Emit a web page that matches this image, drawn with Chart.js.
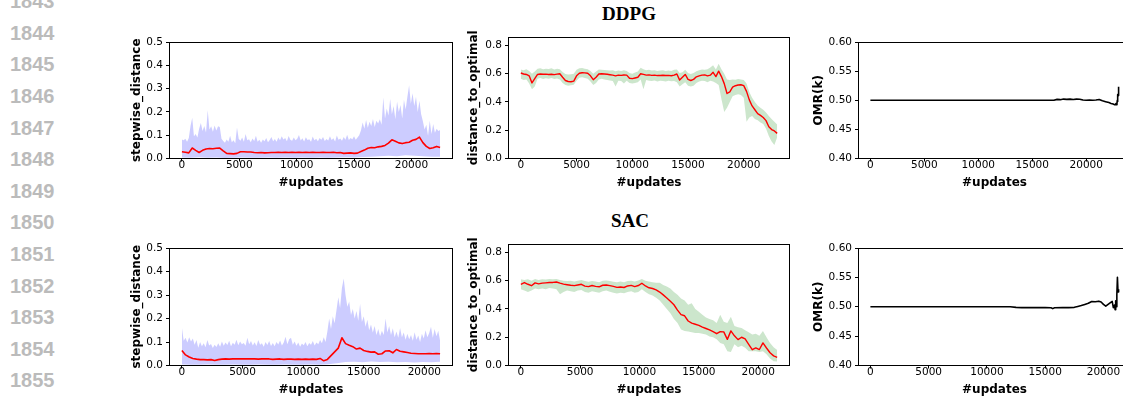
<!DOCTYPE html>
<html><head><meta charset="utf-8">
<script src="https://cdn.jsdelivr.net/npm/chart.js@4/dist/chart.umd.min.js"></script>
<style>
html,body{margin:0;padding:0;background:#fff;overflow:hidden;}
#page{position:relative;width:1123px;height:400px;overflow:hidden;background:#fff;}
canvas{position:absolute;}
.ln{position:absolute;left:10px;font:bold 20px/20px "Liberation Sans",Arial,sans-serif;color:#bbbbbb;}
.ttl{position:absolute;width:120px;text-align:center;font:bold 19px/19px "Liberation Serif","Times New Roman",serif;color:#000;}
</style></head><body><div id="page">
<div class="ln" style="top:-9px">1843</div>
<div class="ln" style="top:22.6px">1844</div>
<div class="ln" style="top:54.2px">1845</div>
<div class="ln" style="top:85.9px">1846</div>
<div class="ln" style="top:117.5px">1847</div>
<div class="ln" style="top:149.1px">1848</div>
<div class="ln" style="top:180.7px">1849</div>
<div class="ln" style="top:212.3px">1850</div>
<div class="ln" style="top:244px">1851</div>
<div class="ln" style="top:275.6px">1852</div>
<div class="ln" style="top:307.2px">1853</div>
<div class="ln" style="top:338.8px">1854</div>
<div class="ln" style="top:370.4px">1855</div>
<div class="ttl" style="left:569px;top:4px">DDPG</div>
<div class="ttl" style="left:570px;top:211px">SAC</div>
<canvas id="c11"></canvas><canvas id="c12"></canvas><canvas id="c13"></canvas>
<canvas id="c21"></canvas><canvas id="c22"></canvas><canvas id="c23"></canvas>
</div>
<script>
// ---------------- tick labels ----------------
const X_TICKS = [0, 5000, 10000, 15000, 20000];
const STEP_Y_TICKS = [0.0, 0.1, 0.2, 0.3, 0.4, 0.5];
const DIST_Y_TICKS = [0.0, 0.2, 0.4, 0.6, 0.8];
const OMR_Y_TICKS = [0.40, 0.45, 0.50, 0.55, 0.60];

// ---------------- DDPG : stepwise_distance ----------------
const DDPG_STEP_MAX_DX = 150;
const DDPG_STEP_MAX = [
0.082,0.078,0.085,0.072,0.088,0.140,0.175,0.095,0.105,0.090,
0.128,0.152,0.118,0.140,0.112,0.207,0.125,0.138,0.115,0.142,
0.120,0.138,0.135,0.085,0.075,0.068,0.082,0.072,0.098,0.070,
0.078,0.065,0.133,0.085,0.076,0.090,0.072,0.105,0.078,0.083,
0.070,0.086,0.075,0.098,0.072,0.080,0.068,0.082,0.074,0.088,
0.070,0.079,0.092,0.074,0.084,0.072,0.090,0.078,0.095,0.082,
0.088,0.074,0.097,0.080,0.076,0.090,0.078,0.085,0.101,0.077,
0.087,0.073,0.091,0.079,0.083,0.072,0.094,0.078,0.085,0.074,
0.088,0.080,0.092,0.075,0.084,0.077,0.096,0.079,0.087,0.073,
0.099,0.081,0.086,0.076,0.092,0.080,0.102,0.079,0.088,0.083,
0.095,0.081,0.090,0.100,0.120,0.155,0.128,0.165,0.132,0.158,
0.140,0.170,0.135,0.162,0.150,0.168,0.145,0.262,0.172,0.215,
0.185,0.255,0.190,0.225,0.168,0.245,0.200,0.230,0.172,0.252,
0.210,0.265,0.314,0.235,0.280,0.225,0.265,0.200,0.248,0.190,
0.160,0.125,0.145,0.098,0.162,0.105,0.148,0.110,0.128,0.118,
0.122];
const DDPG_STEP_MIN_DX = 750;
const DDPG_STEP_MIN = [
0.004,0.003,0.005,0.003,0.004,0.002,0.003,0.004,0.003,0.003,
0.004,0.003,0.004,0.003,0.004,0.003,0.004,0.003,0.004,0.005,
0.004,0.006,0.008,0.010,0.012,0.010,0.014,0.012,0.010,0.008,
0.007];
const DDPG_STEP_MEAN_DX = 300;
const DDPG_STEP_MEAN = [
0.029,0.027,0.024,0.045,0.035,0.026,0.035,0.041,0.043,0.042,
0.044,0.045,0.033,0.022,0.021,0.020,0.022,0.029,0.029,0.028,
0.028,0.026,0.025,0.026,0.024,0.025,0.026,0.026,0.027,0.026,
0.027,0.026,0.027,0.026,0.027,0.026,0.027,0.026,0.027,0.026,
0.026,0.027,0.026,0.026,0.027,0.025,0.026,0.022,0.023,0.024,
0.022,0.023,0.030,0.036,0.044,0.047,0.046,0.050,0.052,0.056,
0.066,0.080,0.074,0.067,0.064,0.068,0.070,0.078,0.082,0.092,
0.068,0.052,0.043,0.046,0.052,0.047];

// ---------------- DDPG : distance_to_optimal ----------------
const DDPG_DIST_DX = 250;
const DDPG_DIST_MEAN = [
0.605,0.598,0.595,0.585,0.535,0.565,0.595,0.598,0.596,0.597,
0.595,0.596,0.594,0.597,0.600,0.575,0.552,0.545,0.543,0.548,
0.585,0.603,0.607,0.606,0.603,0.585,0.558,0.575,0.598,0.600,
0.598,0.596,0.593,0.590,0.585,0.590,0.588,0.591,0.590,0.568,
0.565,0.570,0.575,0.600,0.595,0.590,0.592,0.588,0.590,0.587,
0.588,0.589,0.587,0.588,0.586,0.590,0.598,0.555,0.575,0.595,
0.560,0.552,0.560,0.578,0.585,0.590,0.592,0.585,0.590,0.610,
0.580,0.618,0.580,0.530,0.460,0.472,0.505,0.515,0.520,0.522,
0.516,0.475,0.415,0.372,0.345,0.318,0.305,0.290,0.268,0.225,
0.205,0.195,0.178];
const DDPG_DIST_UPPER = [
0.630,0.625,0.632,0.620,0.600,0.615,0.635,0.638,0.632,0.636,
0.634,0.638,0.630,0.636,0.632,0.612,0.598,0.594,0.596,0.600,
0.628,0.638,0.640,0.636,0.632,0.620,0.600,0.615,0.630,0.628,
0.626,0.624,0.622,0.625,0.618,0.622,0.620,0.624,0.620,0.605,
0.600,0.608,0.615,0.642,0.632,0.625,0.628,0.622,0.624,0.620,
0.622,0.624,0.620,0.622,0.620,0.628,0.630,0.605,0.610,0.628,
0.605,0.598,0.605,0.618,0.625,0.630,0.628,0.632,0.645,0.660,
0.630,0.670,0.632,0.600,0.560,0.555,0.560,0.558,0.562,0.560,
0.555,0.530,0.470,0.430,0.400,0.375,0.360,0.345,0.325,0.300,
0.280,0.260,0.240];
const DDPG_DIST_LOWER = [
0.565,0.555,0.560,0.530,0.490,0.510,0.565,0.570,0.562,0.568,
0.565,0.570,0.562,0.566,0.560,0.535,0.520,0.515,0.518,0.522,
0.550,0.572,0.575,0.570,0.565,0.545,0.520,0.535,0.560,0.565,
0.560,0.555,0.552,0.548,0.510,0.550,0.548,0.530,0.550,0.535,
0.530,0.535,0.540,0.560,0.490,0.555,0.550,0.548,0.552,0.545,
0.550,0.548,0.545,0.550,0.546,0.548,0.540,0.510,0.525,0.540,
0.515,0.510,0.515,0.535,0.545,0.550,0.548,0.540,0.550,0.545,
0.535,0.520,0.420,0.330,0.360,0.400,0.440,0.450,0.455,0.450,
0.430,0.260,0.290,0.300,0.280,0.270,0.255,0.245,0.210,0.160,
0.120,0.095,0.150];

// ---------------- DDPG : OMR(k) ----------------
const DDPG_OMR_X = [0,2000,4000,6000,8000,10000,12000,14000,16000,17000,17300,17600,17900,18200,18500,18800,19100,19400,19700,20000,20300,20600,20900,21200,21500,21800,22100,22300,22500,22600,22700,22750,22800,22850,22880,22900,22930,22960,23000];
const DDPG_OMR = [0.5,0.5,0.5,0.5,0.5,0.5,0.5,0.5,0.5,0.5,0.5015,0.501,0.502,0.5015,0.502,0.5012,0.502,0.5018,0.5005,0.5,0.5002,0.5,0.5005,0.5012,0.499,0.4975,0.496,0.4945,0.4935,0.4925,0.4925,0.4945,0.4922,0.495,0.5,0.498,0.51,0.508,0.523];

// ---------------- SAC : stepwise_distance ----------------
const SAC_STEP_MAX_DX = 150;
const SAC_STEP_MAX = [
0.162,0.105,0.118,0.098,0.120,0.102,0.115,0.088,0.108,0.076,
0.100,0.082,0.095,0.078,0.108,0.085,0.092,0.074,0.088,0.079,
0.095,0.080,0.102,0.084,0.098,0.087,0.105,0.082,0.097,0.088,
0.110,0.086,0.102,0.090,0.096,0.084,0.118,0.090,0.104,0.085,
0.099,0.083,0.108,0.088,0.095,0.080,0.100,0.087,0.104,0.083,
0.096,0.082,0.100,0.089,0.106,0.085,0.098,0.122,0.090,0.112,
0.118,0.088,0.102,0.084,0.098,0.080,0.094,0.086,0.100,0.082,
0.096,0.088,0.104,0.085,0.098,0.090,0.108,0.095,0.120,0.100,
0.145,0.200,0.155,0.210,0.180,0.235,0.290,0.245,0.330,0.370,
0.300,0.250,0.272,0.215,0.240,0.200,0.232,0.190,0.262,0.185,
0.210,0.165,0.195,0.150,0.175,0.140,0.168,0.130,0.155,0.125,
0.148,0.130,0.200,0.140,0.168,0.130,0.158,0.120,0.145,0.118,
0.160,0.120,0.140,0.110,0.135,0.112,0.130,0.105,0.142,0.110,
0.128,0.100,0.135,0.115,0.150,0.120,0.138,0.165,0.118,0.155,
0.125,0.148,0.105];
const SAC_STEP_MIN_DX = 710;
const SAC_STEP_MIN = [
0.004,0.003,0.003,0.004,0.003,0.003,0.004,0.003,0.003,0.004,
0.003,0.003,0.004,0.003,0.003,0.004,0.003,0.005,0.010,0.015,
0.016,0.014,0.017,0.015,0.016,0.014,0.015,0.013,0.015,0.014,
0.016];
const SAC_STEP_MEAN_DX = 300;
const SAC_STEP_MEAN = [
0.064,0.045,0.036,0.030,0.027,0.025,0.025,0.024,0.025,0.021,
0.025,0.027,0.028,0.027,0.028,0.029,0.028,0.028,0.029,0.028,
0.028,0.027,0.028,0.029,0.028,0.026,0.027,0.028,0.026,0.027,
0.027,0.026,0.027,0.026,0.027,0.026,0.027,0.026,0.030,0.020,
0.026,0.042,0.058,0.074,0.118,0.093,0.086,0.080,0.070,0.074,
0.064,0.060,0.057,0.058,0.048,0.050,0.062,0.063,0.054,0.068,
0.061,0.058,0.055,0.052,0.051,0.050,0.050,0.050,0.051,0.050,
0.051,0.050];

// ---------------- SAC : distance_to_optimal ----------------
const SAC_DIST_DX = 300;
const SAC_DIST_MEAN = [
0.575,0.587,0.575,0.565,0.585,0.578,0.583,0.585,0.587,0.588,
0.591,0.583,0.576,0.572,0.568,0.565,0.570,0.575,0.562,0.558,
0.566,0.560,0.557,0.568,0.570,0.565,0.560,0.553,0.556,0.552,
0.563,0.567,0.558,0.566,0.582,0.563,0.550,0.545,0.535,0.520,
0.500,0.478,0.455,0.430,0.392,0.360,0.352,0.315,0.300,0.292,
0.284,0.272,0.262,0.252,0.240,0.225,0.240,0.238,0.185,0.245,
0.210,0.183,0.200,0.188,0.150,0.112,0.125,0.113,0.160,0.124,
0.090,0.068,0.058];
const SAC_DIST_UPPER = [
0.610,0.605,0.610,0.600,0.612,0.605,0.610,0.608,0.612,0.610,
0.612,0.605,0.600,0.598,0.600,0.595,0.600,0.605,0.598,0.592,
0.598,0.595,0.590,0.600,0.602,0.598,0.592,0.590,0.595,0.590,
0.598,0.600,0.595,0.602,0.612,0.600,0.595,0.590,0.585,0.585,
0.570,0.560,0.545,0.520,0.500,0.475,0.460,0.430,0.440,0.400,
0.380,0.360,0.340,0.330,0.320,0.300,0.360,0.310,0.300,0.345,
0.280,0.270,0.265,0.250,0.235,0.220,0.225,0.210,0.245,0.200,
0.160,0.130,0.110];
const SAC_DIST_LOWER = [
0.540,0.530,0.520,0.530,0.545,0.540,0.545,0.540,0.548,0.545,
0.540,0.505,0.520,0.530,0.525,0.520,0.530,0.535,0.520,0.515,
0.525,0.520,0.515,0.525,0.530,0.522,0.515,0.510,0.515,0.512,
0.520,0.525,0.515,0.520,0.540,0.520,0.505,0.495,0.480,0.460,
0.430,0.400,0.370,0.330,0.300,0.255,0.245,0.240,0.235,0.230,
0.230,0.225,0.220,0.205,0.200,0.185,0.160,0.150,0.100,0.095,
0.150,0.130,0.140,0.125,0.100,0.100,0.100,0.095,0.100,0.080,
0.050,0.030,0.028];

// ---------------- SAC : OMR(k) ----------------
const SAC_OMR_X = [0,2000,4000,6000,8000,10000,12000,12500,13000,14000,15000,15500,15650,15800,16500,17000,17500,17800,18100,18400,18700,19000,19300,19600,19800,20000,20200,20400,20600,20750,20850,20950,21000,21050,21100,21150,21200,21250,21300];
const SAC_OMR = [0.5,0.5,0.5,0.5,0.5,0.5,0.5,0.499,0.4985,0.4985,0.4985,0.4982,0.4968,0.4982,0.4985,0.4985,0.499,0.5005,0.502,0.504,0.506,0.509,0.5085,0.5095,0.508,0.504,0.501,0.504,0.507,0.509,0.4985,0.503,0.495,0.51,0.5,0.52,0.55,0.525,0.53];

// ---------------- helpers ----------------
Chart.defaults.font.family = "'DejaVu Sans', sans-serif";
const BLUE_BAND = 'rgba(0,0,255,0.2)';
const GREEN_BAND = 'rgba(0,128,0,0.2)';
const RED = '#ff0000';

const gridPts = (ys, dx) => ys.map((y, i) => ({x: i * dx, y}));
const xyPts = (xs, ys) => xs.map((x, i) => ({x, y: ys[i]}));

const framePlugin = {
  id: 'frame',
  afterDraw(chart) {
    const {ctx, chartArea: a} = chart;
    ctx.save();
    ctx.strokeStyle = '#000';
    ctx.lineWidth = 1;
    const l = Math.round(a.left) + 0.5, t = Math.round(a.top) + 0.5;
    const r = Math.round(a.right) - 0.5, b = Math.round(a.bottom) - 0.5;
    ctx.strokeRect(l, t, r - l, b - t);
    ctx.restore();
  }
};

function lineDs(data, color, width) {
  return {data, borderColor: color, borderWidth: width, pointRadius: 0, fill: false,
          tension: 0, borderJoinStyle: 'round', showLine: true};
}
function bandLower(data) {
  return {data, borderWidth: 0, borderColor: 'rgba(0,0,0,0)', pointRadius: 0, fill: false, showLine: true};
}
function bandUpper(data, color) {
  return {data, borderWidth: 0, borderColor: 'rgba(0,0,0,0)', backgroundColor: color, pointRadius: 0, fill: '-1', showLine: true};
}

function makeChart(id, box, datasets, ycfg, ylabel) {
  const cv = document.getElementById(id);
  cv.width = box.w; cv.height = box.h;
  cv.style.left = box.l + 'px'; cv.style.top = box.t + 'px';
  let lastX = 0;
  datasets.forEach(d => d.data.forEach(p => { if (p.x > lastX) lastX = p.x; }));
  const tickFont = {family: "'DejaVu Sans', sans-serif", size: 10.5};
  const titleFont = {family: "'DejaVu Sans', sans-serif", size: 12, weight: 'bold'};
  const gridCfg = {display: true, drawOnChartArea: false, drawTicks: true, tickLength: 3, tickColor: '#000', color: '#000'};
  return new Chart(cv, {
    type: 'scatter',
    data: {datasets},
    options: {
      responsive: false, animation: false, devicePixelRatio: 1,
      layout: {padding: {top: box.pt, right: box.pr, left: 0, bottom: 0}},
      plugins: {legend: {display: false}, tooltip: {enabled: false}},
      scales: {
        x: {
          type: 'linear', min: -0.05 * lastX, max: 1.05 * lastX,
          afterBuildTicks: s => { s.ticks = X_TICKS.map(v => ({value: v})); },
          afterFit: s => { s.height = box.hx; },
          ticks: {font: tickFont, color: '#000', padding: -3, maxRotation: 0, autoSkip: false,
                  callback: v => String(v)},
          grid: gridCfg, border: {display: false},
          title: {display: true, text: '#updates', font: titleFont, color: '#000', padding: 0}
        },
        y: {
          type: 'linear', min: ycfg.min, max: ycfg.max,
          afterBuildTicks: s => { s.ticks = ycfg.ticks.map(v => ({value: v})); },
          afterFit: s => { s.width = box.wy; },
          ticks: {font: tickFont, color: '#000', padding: 3, autoSkip: false,
                  callback: v => Number(v).toFixed(ycfg.dec)},
          grid: gridCfg, border: {display: false},
          title: {display: true, text: ylabel, font: titleFont, color: '#000', padding: 0}
        }
      }
    },
    plugins: [framePlugin]
  });
}

const yStep = {min: 0, max: 0.5, ticks: STEP_Y_TICKS, dec: 1};
const yDist = {min: 0, max: 0.86, ticks: DIST_Y_TICKS, dec: 1};
const yOmr = {min: 0.40, max: 0.60, ticks: OMR_Y_TICKS, dec: 2};

// Row 1 : DDPG
makeChart('c11', {l: 130, t: 30, w: 325, h: 160, pt: 12, pr: 2, wy: 39, hx: 31.5}, [
  lineDs(gridPts(DDPG_STEP_MEAN, DDPG_STEP_MEAN_DX), RED, 1.6),
  bandLower(gridPts(DDPG_STEP_MIN, DDPG_STEP_MIN_DX)),
  bandUpper(gridPts(DDPG_STEP_MAX, DDPG_STEP_MAX_DX), BLUE_BAND)
], yStep, 'stepwise_distance');

makeChart('c12', {l: 467, t: 27, w: 325, h: 163, pt: 10, pr: 2, wy: 41, hx: 31.5}, [
  lineDs(gridPts(DDPG_DIST_MEAN, DDPG_DIST_DX), RED, 1.4),
  bandLower(gridPts(DDPG_DIST_LOWER, DDPG_DIST_DX)),
  bandUpper(gridPts(DDPG_DIST_UPPER, DDPG_DIST_DX), GREEN_BAND)
], yDist, 'distance_to_optimal');

makeChart('c13', {l: 812, t: 30, w: 321, h: 160, pt: 12, pr: 2, wy: 46, hx: 31.5}, [
  lineDs(xyPts(DDPG_OMR_X, DDPG_OMR), '#000', 1.6)
], yOmr, 'OMR(k)');

// Row 2 : SAC
makeChart('c21', {l: 130, t: 236, w: 325, h: 161, pt: 12, pr: 2, wy: 39, hx: 31.5}, [
  lineDs(gridPts(SAC_STEP_MEAN, SAC_STEP_MEAN_DX), RED, 1.6),
  bandLower(gridPts(SAC_STEP_MIN, SAC_STEP_MIN_DX)),
  bandUpper(gridPts(SAC_STEP_MAX, SAC_STEP_MAX_DX), BLUE_BAND)
], yStep, 'stepwise_distance');

makeChart('c22', {l: 467, t: 234, w: 325, h: 163, pt: 10, pr: 2, wy: 41, hx: 31.5}, [
  lineDs(gridPts(SAC_DIST_MEAN, SAC_DIST_DX), RED, 1.4),
  bandLower(gridPts(SAC_DIST_LOWER, SAC_DIST_DX)),
  bandUpper(gridPts(SAC_DIST_UPPER, SAC_DIST_DX), GREEN_BAND)
], yDist, 'distance_to_optimal');

makeChart('c23', {l: 812, t: 236, w: 321, h: 161, pt: 12, pr: 2, wy: 46, hx: 31.5}, [
  lineDs(xyPts(SAC_OMR_X, SAC_OMR), '#000', 1.6)
], yOmr, 'OMR(k)');
</script>
</body></html>
